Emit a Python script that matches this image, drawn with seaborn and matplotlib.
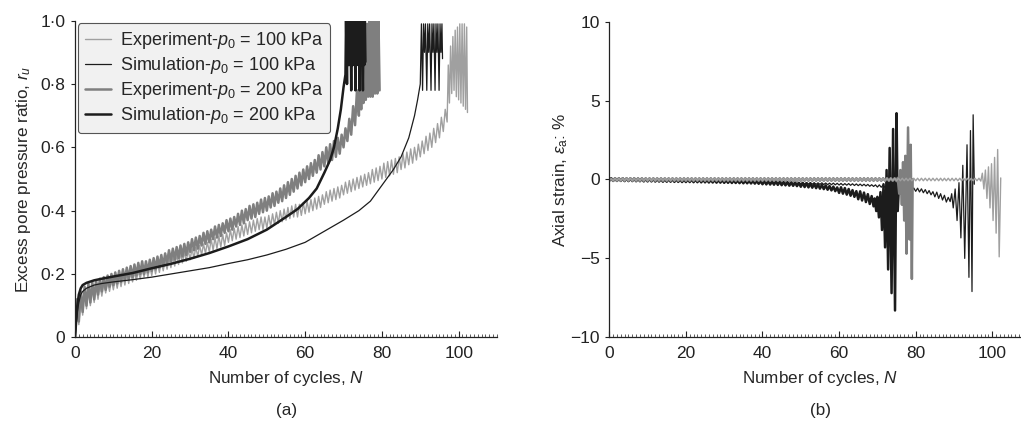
import matplotlib
matplotlib.use("Agg")
import matplotlib.pyplot as plt
import seaborn as sns
from matplotlib.lines import Line2D
from matplotlib.ticker import MultipleLocator, FuncFormatter

# ---------------------------------------------------------------------------
# (a) Excess pore pressure ratio r_u.
# Experiments: trough (at cycle N) and peak (at N + 0.5) of every loading cycle,
# followed by the liquefied stage as a sequence of (N, r_u) turning points.
# ---------------------------------------------------------------------------
exp100_ru_trough = [
    0.00, 0.04, 0.07, 0.09, 0.10, 0.11, 0.12, 0.13, 0.14, 0.145,
    0.15, 0.155, 0.16, 0.165, 0.17, 0.175, 0.18, 0.185, 0.19, 0.19,
    0.195, 0.20, 0.205, 0.21, 0.215, 0.22, 0.225, 0.23, 0.235, 0.24,
    0.245, 0.25, 0.255, 0.26, 0.265, 0.27, 0.275, 0.28, 0.285, 0.29,
    0.30, 0.305, 0.31, 0.315, 0.32, 0.325, 0.33, 0.335, 0.34, 0.34,
    0.345, 0.35, 0.355, 0.36, 0.365, 0.37, 0.375, 0.38, 0.38, 0.385,
    0.39, 0.395, 0.40, 0.405, 0.41, 0.42, 0.425, 0.43, 0.435, 0.44,
    0.45, 0.455, 0.46, 0.465, 0.47, 0.475, 0.48, 0.485, 0.49, 0.495,
    0.50, 0.505, 0.51, 0.515, 0.52, 0.53, 0.535, 0.545, 0.55, 0.56,
    0.57, 0.58, 0.59, 0.60, 0.615, 0.63, 0.65]
exp100_ru_peak = [
    0.10, 0.12, 0.14, 0.15, 0.155, 0.16, 0.165, 0.17, 0.175, 0.18,
    0.185, 0.19, 0.195, 0.20, 0.205, 0.205, 0.21, 0.215, 0.22, 0.225,
    0.23, 0.235, 0.24, 0.245, 0.25, 0.255, 0.26, 0.265, 0.27, 0.275,
    0.28, 0.285, 0.29, 0.295, 0.30, 0.31, 0.315, 0.32, 0.325, 0.33,
    0.34, 0.345, 0.35, 0.355, 0.36, 0.365, 0.37, 0.375, 0.38, 0.38,
    0.385, 0.39, 0.395, 0.40, 0.405, 0.41, 0.415, 0.42, 0.42, 0.425,
    0.43, 0.435, 0.44, 0.445, 0.45, 0.46, 0.465, 0.47, 0.475, 0.48,
    0.49, 0.495, 0.50, 0.505, 0.51, 0.515, 0.52, 0.53, 0.535, 0.54,
    0.55, 0.555, 0.56, 0.565, 0.57, 0.58, 0.585, 0.595, 0.60, 0.61,
    0.62, 0.635, 0.645, 0.66, 0.675, 0.695, 0.72]
exp100_liq_N = [97.0, 97.3, 97.6, 97.9, 98.2, 98.5, 98.8, 99.1, 99.4, 99.7,
                100.0, 100.3, 100.6, 100.9, 101.2, 101.5, 101.8, 102.1, 102.3]
exp100_liq_ru = [0.68, 0.86, 0.74, 0.92, 0.77, 0.95, 0.78, 0.97, 0.76, 0.98,
                 0.75, 0.99, 0.74, 0.99, 0.73, 0.99, 0.72, 0.98, 0.71]

exp200_ru_trough = [
    0.00, 0.05, 0.08, 0.10, 0.11, 0.12, 0.135, 0.145, 0.15, 0.16,
    0.165, 0.17, 0.175, 0.18, 0.185, 0.19, 0.195, 0.20, 0.20, 0.205,
    0.21, 0.215, 0.22, 0.225, 0.235, 0.24, 0.245, 0.25, 0.255, 0.26,
    0.27, 0.275, 0.28, 0.29, 0.295, 0.30, 0.31, 0.315, 0.32, 0.33,
    0.335, 0.34, 0.35, 0.355, 0.36, 0.37, 0.375, 0.38, 0.39, 0.395,
    0.40, 0.41, 0.415, 0.425, 0.43, 0.44, 0.45, 0.46, 0.47, 0.48,
    0.49, 0.50, 0.51, 0.52, 0.53, 0.54, 0.55, 0.56, 0.57, 0.58,
    0.60, 0.62, 0.64, 0.67]
exp200_ru_peak = [
    0.12, 0.145, 0.16, 0.17, 0.175, 0.18, 0.185, 0.19, 0.195, 0.20,
    0.205, 0.21, 0.215, 0.22, 0.225, 0.23, 0.235, 0.24, 0.24, 0.245,
    0.25, 0.255, 0.26, 0.265, 0.275, 0.28, 0.285, 0.29, 0.295, 0.30,
    0.31, 0.315, 0.32, 0.33, 0.335, 0.34, 0.35, 0.355, 0.36, 0.37,
    0.375, 0.38, 0.39, 0.40, 0.405, 0.415, 0.42, 0.425, 0.435, 0.44,
    0.445, 0.455, 0.46, 0.47, 0.48, 0.49, 0.50, 0.51, 0.52, 0.53,
    0.54, 0.55, 0.56, 0.575, 0.585, 0.60, 0.61, 0.62, 0.63, 0.64,
    0.66, 0.69, 0.73, 0.78]
exp200_liq_N = [74.0, 74.3, 74.6, 74.9, 75.2, 75.5, 75.8, 76.1, 76.4, 76.7,
                77.0, 77.3, 77.6, 77.9, 78.2, 78.5, 78.8, 79.1, 79.4]
exp200_liq_ru = [0.70, 0.86, 0.72, 0.93, 0.74, 0.97, 0.75, 0.99, 0.76, 1.00,
                 0.76, 1.00, 0.76, 1.00, 0.77, 1.00, 0.77, 1.00, 0.78]

# Simulations: smooth build-up, then the liquefied stage
sim100_N = [0, 0.3, 0.6, 1.0, 1.5, 2, 3, 4, 5, 7,
            10, 15, 20, 25, 30, 35, 40, 45, 50, 55,
            60, 65, 70, 74, 77, 80, 83, 85, 87, 88.5,
            89.3, 90.0]
sim100_ru = [0, 0.04, 0.08, 0.11, 0.135, 0.145, 0.155, 0.16, 0.165, 0.17,
             0.175, 0.182, 0.19, 0.20, 0.21, 0.22, 0.233, 0.245, 0.26, 0.278,
             0.30, 0.335, 0.37, 0.40, 0.43, 0.48, 0.53, 0.57, 0.63, 0.70,
             0.75, 0.80]
sim100_liq_N = [90.3, 90.6, 90.85, 91.1, 91.35, 91.7, 91.95, 92.2, 92.45, 92.8,
                93.05, 93.3, 93.55, 93.85, 94.1, 94.35, 94.6, 94.9, 95.15, 95.4,
                95.65, 95.8]
sim100_liq_ru = [0.99, 0.78, 0.99, 0.90, 0.99, 0.78, 0.99, 0.90, 0.99, 0.78,
                 0.99, 0.90, 0.99, 0.78, 0.99, 0.90, 0.99, 0.78, 0.99, 0.90,
                 0.99, 0.88]

sim200_N = [0, 0.3, 0.6, 1.0, 1.5, 2, 3, 4, 5, 7,
            10, 15, 20, 25, 30, 35, 40, 45, 50, 55,
            58, 61, 63, 65, 66.5, 67.5, 68.5, 69.3, 70.0, 70.5]
sim200_ru = [0, 0.05, 0.10, 0.135, 0.155, 0.165, 0.172, 0.176, 0.18, 0.185,
             0.192, 0.203, 0.218, 0.232, 0.248, 0.266, 0.287, 0.31, 0.34, 0.38,
             0.405, 0.44, 0.47, 0.52, 0.56, 0.60, 0.66, 0.72, 0.79, 0.83]
sim200_liq_N = [70.65, 70.9, 71.05, 71.25, 71.45, 71.65, 71.8, 72.0, 72.15, 72.35,
                72.55, 72.75, 72.9, 73.1, 73.25, 73.45, 73.65, 73.85, 74.0, 74.2,
                74.35, 74.55, 74.75, 75.05, 75.2, 75.4, 75.55, 75.7]
sim200_liq_ru = [1.0, 0.80, 1.0, 0.86, 1.0, 0.86, 1.0, 0.78, 1.0, 0.86,
                 1.0, 0.86, 1.0, 0.78, 1.0, 0.86, 1.0, 0.86, 1.0, 0.78,
                 1.0, 0.86, 1.0, 0.78, 1.0, 0.86, 1.0, 0.87]

# ---------------------------------------------------------------------------
# (b) Axial strain (%): per-cycle mean and half-range before failure,
# then the large-strain stage as (N, strain) turning points.
# ---------------------------------------------------------------------------
exp100_eps_mid = [
    0.0, 0.0, 0.0, 0.0, 0.0, 0.0, 0.0, 0.0, 0.0, 0.0,
    0.0, 0.0, 0.0, 0.0, 0.0, 0.0, 0.0, 0.0, 0.0, 0.0,
    0.0, 0.0, 0.0, 0.0, 0.0, 0.0, 0.0, 0.0, 0.0, 0.0,
    0.0, 0.0, 0.0, 0.0, 0.0, 0.0, 0.0, 0.0, 0.0, 0.0,
    0.0, 0.0, 0.0, 0.0, 0.0, 0.0, 0.0, 0.0, 0.0, 0.0,
    0.0, 0.0, 0.0, 0.0, 0.0, 0.0, 0.0, 0.0, 0.0, 0.0,
    0.0, 0.0, 0.0, 0.0, 0.0, 0.0, 0.0, 0.0, 0.0, 0.0,
    0.0, 0.0, 0.0, 0.0, 0.0, 0.0, 0.0, 0.0, 0.0, 0.0,
    0.0, 0.0, 0.0, 0.0, 0.0, 0.0, 0.0, 0.0, 0.0, 0.0,
    0.0, 0.0, 0.0, 0.0, 0.0, 0.0, 0.0]
exp100_eps_half = [
    0.05, 0.08, 0.08, 0.08, 0.08, 0.08, 0.08, 0.08, 0.08, 0.08,
    0.08, 0.08, 0.08, 0.08, 0.08, 0.08, 0.08, 0.08, 0.08, 0.08,
    0.08, 0.08, 0.08, 0.08, 0.08, 0.08, 0.08, 0.08, 0.08, 0.08,
    0.08, 0.08, 0.08, 0.08, 0.08, 0.08, 0.08, 0.08, 0.08, 0.08,
    0.08, 0.08, 0.08, 0.08, 0.08, 0.08, 0.08, 0.08, 0.08, 0.08,
    0.08, 0.08, 0.08, 0.08, 0.08, 0.08, 0.08, 0.08, 0.08, 0.08,
    0.08, 0.08, 0.08, 0.08, 0.08, 0.08, 0.08, 0.08, 0.08, 0.08,
    0.08, 0.08, 0.08, 0.08, 0.08, 0.08, 0.08, 0.08, 0.08, 0.08,
    0.08, 0.08, 0.08, 0.08, 0.08, 0.08, 0.08, 0.08, 0.08, 0.08,
    0.08, 0.08, 0.08, 0.08, 0.08, 0.08, 0.08]
exp100_fail_N = [97.0, 97.4, 97.8, 98.2, 98.6, 99.0, 99.4, 99.8, 100.2, 100.6,
                 101.0, 101.4, 101.8, 102.2]
exp100_fail_eps = [-0.1, 0.4, -0.6, 0.6, -1.2, 0.8, -1.8, 1.0, -2.6, 1.4,
                   -3.4, 1.9, -4.9, 0.1]

exp200_eps_mid = [
    0.0, 0.0, 0.0, 0.0, 0.0, 0.0, 0.0, 0.0, 0.0, 0.0,
    0.0, 0.0, 0.0, 0.0, 0.0, 0.0, 0.0, 0.0, 0.0, 0.0,
    0.0, 0.0, 0.0, 0.0, 0.0, 0.0, 0.0, 0.0, 0.0, 0.0,
    0.0, 0.0, 0.0, 0.0, 0.0, 0.0, 0.0, 0.0, 0.0, 0.0,
    0.0, 0.0, 0.0, 0.0, 0.0, 0.0, 0.0, 0.0, 0.0, 0.0,
    0.0, 0.0, 0.0, 0.0, 0.0, 0.0, 0.0, 0.0, 0.0, 0.0,
    0.0, 0.0, 0.0, 0.0, 0.0, 0.0, 0.0, 0.0, 0.0, 0.0,
    0.0, 0.0, 0.0, 0.0, 0.0]
exp200_eps_half = [
    0.05, 0.08, 0.08, 0.08, 0.08, 0.08, 0.08, 0.08, 0.08, 0.08,
    0.08, 0.08, 0.08, 0.08, 0.08, 0.08, 0.08, 0.08, 0.08, 0.08,
    0.08, 0.08, 0.08, 0.08, 0.08, 0.08, 0.08, 0.08, 0.08, 0.08,
    0.08, 0.08, 0.08, 0.08, 0.08, 0.08, 0.08, 0.08, 0.08, 0.08,
    0.08, 0.08, 0.08, 0.08, 0.08, 0.08, 0.08, 0.08, 0.08, 0.08,
    0.08, 0.08, 0.08, 0.08, 0.08, 0.08, 0.08, 0.08, 0.08, 0.08,
    0.08, 0.08, 0.08, 0.08, 0.08, 0.08, 0.08, 0.08, 0.08, 0.08,
    0.08, 0.08, 0.08, 0.08, 0.08]
exp200_fail_N = [75.0, 75.3, 75.7, 76.0, 76.4, 76.7, 77.0, 77.3, 77.6, 78.0,
                 78.4, 78.7, 79.0, 79.2]
exp200_fail_eps = [-0.1, 0.1, -0.9, 0.6, -1.6, 1.1, -2.6, 1.5, -4.7, 3.3,
                   -3.8, 2.2, -6.3, 0.0]

sim100_eps_mid = [
    0.00, -0.01, -0.01, -0.01, -0.02, -0.02, -0.02, -0.02, -0.03, -0.03,
    -0.03, -0.03, -0.04, -0.04, -0.04, -0.05, -0.05, -0.05, -0.06, -0.06,
    -0.06, -0.07, -0.07, -0.07, -0.08, -0.08, -0.09, -0.09, -0.10, -0.10,
    -0.10, -0.11, -0.12, -0.12, -0.13, -0.13, -0.14, -0.15, -0.15, -0.16,
    -0.17, -0.17, -0.18, -0.18, -0.19, -0.20, -0.20, -0.21, -0.22, -0.22,
    -0.23, -0.24, -0.24, -0.25, -0.26, -0.26, -0.27, -0.28, -0.28, -0.29,
    -0.30, -0.31, -0.31, -0.32, -0.33, -0.34, -0.35, -0.36, -0.38, -0.39,
    -0.41, -0.42, -0.44, -0.46, -0.48, -0.50, -0.52, -0.55, -0.58, -0.61,
    -0.65, -0.69, -0.74, -0.80, -0.87, -0.95, -1.05, -1.15, -1.28]
sim100_eps_half = [
    0.05, 0.05, 0.05, 0.05, 0.05, 0.05, 0.05, 0.05, 0.05, 0.05,
    0.05, 0.05, 0.05, 0.05, 0.05, 0.05, 0.05, 0.05, 0.05, 0.05,
    0.05, 0.05, 0.05, 0.05, 0.05, 0.05, 0.05, 0.05, 0.05, 0.05,
    0.05, 0.05, 0.05, 0.05, 0.05, 0.05, 0.05, 0.05, 0.05, 0.05,
    0.05, 0.05, 0.05, 0.05, 0.05, 0.05, 0.05, 0.05, 0.05, 0.05,
    0.05, 0.05, 0.05, 0.05, 0.05, 0.05, 0.05, 0.05, 0.05, 0.05,
    0.05, 0.05, 0.05, 0.05, 0.05, 0.05, 0.05, 0.05, 0.05, 0.05,
    0.07, 0.07, 0.07, 0.07, 0.07, 0.07, 0.07, 0.07, 0.07, 0.07,
    0.10, 0.10, 0.10, 0.10, 0.10, 0.15, 0.15, 0.15, 0.15]
sim100_fail_N = [89.0, 89.4, 89.8, 90.3, 90.8, 91.3, 91.8, 92.3, 92.8, 93.4,
                 93.9, 94.3, 94.7, 95.0, 95.3]
sim100_fail_eps = [-1.4, -0.9, -1.8, -0.6, -2.6, -0.2, -3.7, 0.9, -5.0, 2.2,
                   -6.2, 3.1, -7.1, 4.1, -0.3]

sim200_eps_mid = [
    0.00, -0.01, -0.01, -0.01, -0.02, -0.02, -0.02, -0.03, -0.03, -0.04,
    -0.04, -0.04, -0.05, -0.05, -0.06, -0.06, -0.06, -0.07, -0.07, -0.08,
    -0.08, -0.08, -0.09, -0.09, -0.10, -0.10, -0.11, -0.11, -0.12, -0.12,
    -0.13, -0.13, -0.14, -0.14, -0.15, -0.16, -0.16, -0.17, -0.18, -0.19,
    -0.20, -0.21, -0.22, -0.23, -0.24, -0.26, -0.27, -0.29, -0.30, -0.32,
    -0.34, -0.36, -0.38, -0.40, -0.43, -0.46, -0.49, -0.53, -0.57, -0.62,
    -0.67, -0.72, -0.78, -0.85, -0.92, -1.00, -1.08, -1.18, -1.30]
sim200_eps_half = [
    0.08, 0.08, 0.08, 0.08, 0.08, 0.08, 0.08, 0.08, 0.08, 0.08,
    0.08, 0.08, 0.08, 0.08, 0.08, 0.08, 0.08, 0.08, 0.08, 0.08,
    0.08, 0.08, 0.08, 0.08, 0.08, 0.08, 0.08, 0.08, 0.08, 0.08,
    0.08, 0.08, 0.08, 0.08, 0.08, 0.08, 0.08, 0.08, 0.08, 0.08,
    0.10, 0.10, 0.10, 0.10, 0.10, 0.10, 0.10, 0.10, 0.10, 0.10,
    0.12, 0.12, 0.12, 0.12, 0.12, 0.12, 0.12, 0.12, 0.12, 0.12,
    0.18, 0.18, 0.18, 0.18, 0.18, 0.25, 0.25, 0.25, 0.25]
sim200_fail_N = [69.0, 69.3, 69.7, 70.0, 70.4, 70.8, 71.2, 71.6, 72.0, 72.4,
                 72.8, 73.2, 73.7, 74.1, 74.6, 75.0, 75.3, 75.6]
sim200_fail_eps = [-1.7, -1.2, -2.0, -1.1, -2.4, -0.8, -3.2, -0.3, -4.3, 0.6,
                   -5.7, 2.0, -7.2, 3.2, -8.3, 4.2, -2.0, -0.5]

labels = [r"Experiment-$p_0$ = 100 kPa", r"Simulation-$p_0$ = 100 kPa",
          r"Experiment-$p_0$ = 200 kPa", r"Simulation-$p_0$ = 200 kPa"]

# line styles: (colour, width)
STY = {
    "exp100": ("#a0a0a0", 1.0),
    "sim100": ("#1c1c1c", 0.9),
    "exp200": ("#7f7f7f", 1.8),
    "sim200": ("#1c1c1c", 1.8),
}


def cycle_trace(trough, peak):
    """Zigzag through the trough (cycle start) and peak (half cycle) of each cycle."""
    n, v = [], []
    for k, (lo, hi) in enumerate(zip(trough, peak)):
        n.extend([k, k + 0.5])
        v.extend([lo, hi])
    return n, v


def band_trace(mid, half):
    return cycle_trace([m - h for m, h in zip(mid, half)],
                       [m + h for m, h in zip(mid, half)])


def draw(ax, n, v, key):
    color, lw = STY[key]
    sns.lineplot(x=n, y=v, ax=ax, sort=False, estimator=None, color=color,
                 linewidth=lw, legend=False)


sns.set_theme(style="ticks")
plt.rcParams["font.family"] = ["Liberation Sans", "DejaVu Sans"]
plt.rcParams["mathtext.fontset"] = "custom"
plt.rcParams["mathtext.rm"] = "Liberation Sans"
plt.rcParams["mathtext.it"] = "Liberation Sans:italic"
plt.rcParams["mathtext.bf"] = "Liberation Sans:bold"
plt.rcParams["axes.unicode_minus"] = True

TICK_FS = 12.5
LABEL_FS = 12.3

fig = plt.figure(figsize=(10.21, 4.22), dpi=100)
ax_a = fig.add_axes([75 / 1021, 84.7 / 422, 422 / 1021, 316.6 / 422])
ax_b = fig.add_axes([609.3 / 1021, 84.7 / 422, 421.3 / 1021, 315.6 / 422])

# ---- (a) pore pressure ratio ----
n, v = cycle_trace(exp100_ru_trough, exp100_ru_peak)
draw(ax_a, n + exp100_liq_N, v + exp100_liq_ru, "exp100")
n, v = cycle_trace(exp200_ru_trough, exp200_ru_peak)
draw(ax_a, n + exp200_liq_N, v + exp200_liq_ru, "exp200")
draw(ax_a, sim100_N + sim100_liq_N, sim100_ru + sim100_liq_ru, "sim100")
draw(ax_a, sim200_N + sim200_liq_N, sim200_ru + sim200_liq_ru, "sim200")

ax_a.set_xlim(0, 110)
ax_a.set_ylim(0, 1.0)
ax_a.yaxis.set_major_locator(MultipleLocator(0.2))
ax_a.yaxis.set_major_formatter(FuncFormatter(
    lambda val, pos: "0" if abs(val) < 1e-9 else f"{val:.1f}".replace(".", "\u00b7")))
ax_a.set_ylabel(r"Excess pore pressure ratio, $r_u$", fontsize=LABEL_FS, labelpad=5)

# ---- (b) axial strain ----
n, v = band_trace(sim200_eps_mid, sim200_eps_half)
draw(ax_b, n + sim200_fail_N, v + sim200_fail_eps, "sim200")
n, v = band_trace(sim100_eps_mid, sim100_eps_half)
draw(ax_b, n + sim100_fail_N, v + sim100_fail_eps, "sim100")
n, v = band_trace(exp200_eps_mid, exp200_eps_half)
draw(ax_b, n + exp200_fail_N, v + exp200_fail_eps, "exp200")
n, v = band_trace(exp100_eps_mid, exp100_eps_half)
draw(ax_b, n + exp100_fail_N, v + exp100_fail_eps, "exp100")

ax_b.set_xlim(0, 110)
ax_b.set_ylim(-10, 10)
ax_b.yaxis.set_major_locator(MultipleLocator(5))
ax_b.set_ylabel(r"Axial strain, $\varepsilon_{\mathrm{a}}$: %", fontsize=LABEL_FS,
                labelpad=0)

for ax in (ax_a, ax_b):
    ax.set_facecolor("white")
    ax.grid(False)
    sns.despine(ax=ax)
    for side in ("left", "bottom"):
        ax.spines[side].set_color("#222222")
        ax.spines[side].set_linewidth(0.9)
    ax.xaxis.set_major_locator(MultipleLocator(20))
    ax.xaxis.set_minor_locator(MultipleLocator(1))
    ax.tick_params(axis="x", which="major", direction="in", length=4, width=0.8,
                   labelsize=TICK_FS, pad=6, colors="#222222")
    ax.tick_params(axis="x", which="minor", direction="in", length=2, width=0.6,
                   color="#444444")
    ax.tick_params(axis="y", which="major", direction="out", length=3, width=0.8,
                   labelsize=TICK_FS, pad=4, colors="#222222")
    ax.set_xlabel(r"Number of cycles, $N$", fontsize=LABEL_FS, labelpad=6)

handles = [Line2D([], [], color=STY[k][0], linewidth=STY[k][1])
           for k in ("exp100", "sim100", "exp200", "sim200")]
leg = ax_a.legend(handles, labels, loc="upper left", bbox_to_anchor=(0.006, 0.993),
                  borderaxespad=0, frameon=True, fancybox=True, framealpha=1,
                  facecolor="#f1f1f1", edgecolor="#555555", fontsize=13,
                  handlelength=1.45, handletextpad=0.5, labelspacing=0.22,
                  borderpad=0.4)
leg.get_frame().set_linewidth(0.8)

fig.text(287 / 1021, 1 - 410 / 422, "(a)", ha="center", va="center", fontsize=LABEL_FS)
fig.text(820 / 1021, 1 - 410 / 422, "(b)", ha="center", va="center", fontsize=LABEL_FS)

fig.savefig("out.png", dpi=100)
